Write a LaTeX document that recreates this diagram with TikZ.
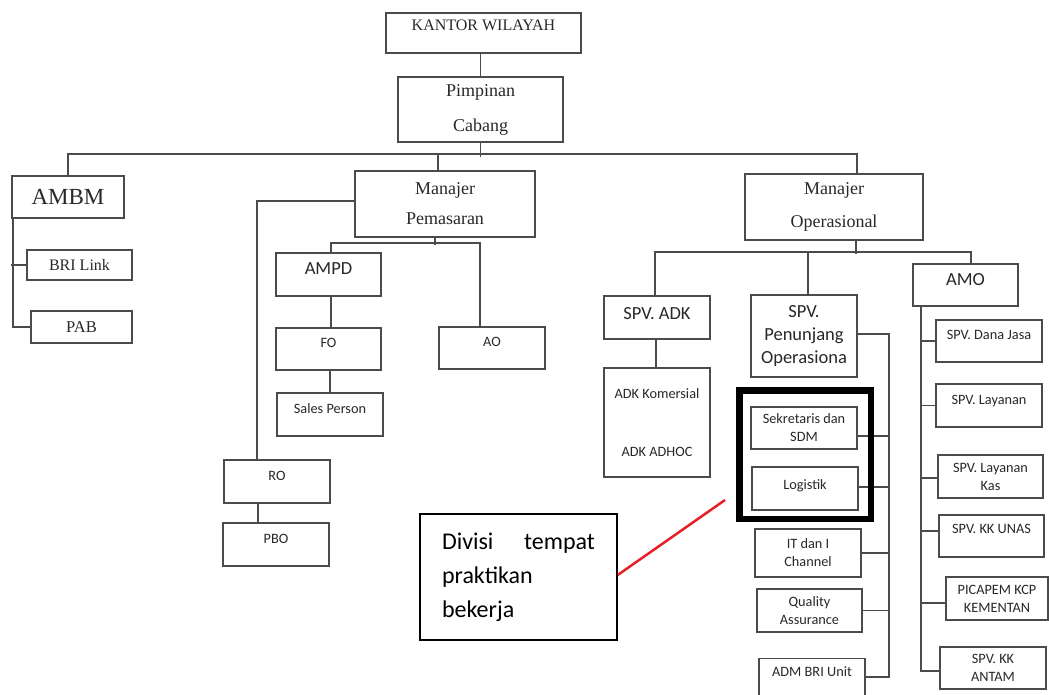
\documentclass[tikz,border=0pt]{standalone}
\usepackage{fontspec}
\usepackage{tikz}
\usetikzlibrary{positioning}
\newfontfamily\timesfont{Liberation Serif}
\newfontfamily\calfont{Carlito}
\definecolor{linegray}{RGB}{75,75,75}
\definecolor{textgray}{RGB}{40,40,40}
\definecolor{markred}{RGB}{232,30,40}

\begin{document}
\begin{tikzpicture}[x=1pt, y=1pt,
    box/.style={draw=linegray, line width=1.6pt, inner sep=0pt, align=center, text=textgray},
    tnr/.style 2 args={font=\timesfont\fontsize{#1}{#2}\selectfont},
    cal/.style 2 args={font=\calfont\fontsize{#1}{#2}\selectfont},
    big/.style={box, cal={18.5}{23}, minimum width=106, minimum height=43},
    small/.style={box, cal={14.3}{18}, minimum width=106, minimum height=43},
    lift/.style={text depth=#1}, lift/.default=12pt,
    link/.style={draw=linegray, line width=1.6pt},
    frame/.style={draw=black, line width=6.5pt},
    pointer/.style={draw=markred, line width=2.5pt}]
    \fill[white] (0,0) rectangle (1049,-695);
    \useasboundingbox (0,0) rectangle (1049,-695);

    \node[box, tnr={16}{18}, minimum width=195, minimum height=40, lift=16pt] (kw) at (483.5,-33) {KANTOR WILAYAH};
    \node[box, tnr={18}{35}, minimum width=165, minimum height=65] (pc) at (480.5,-109.5) {Pimpinan\\Cabang};
    \node[box, tnr={23}{28}, minimum width=112, minimum height=42] (ambm) at (68,-197) {AMBM};
    \node[box, tnr={16}{18}, minimum width=105, minimum height=30] (brilink) at (79.5,-265) {BRI Link};
    \node[box, tnr={16.5}{18}, minimum width=101, minimum height=32] (pab) at (81.5,-327) {PAB};
    \node[box, tnr={18}{30}, minimum width=180, minimum height=66] (mp) at (445,-204) {Manajer\\Pemasaran};
    \node[box, tnr={18}{33}, minimum width=178, minimum height=66] (mo) at (834,-207) {Manajer\\Operasional};

    % pemasaran
    \node[big, minimum width=105, lift] (ampd) at (328.5,-274.5) {AMPD};
    \node[small, minimum width=105, minimum height=42, lift] (fo) at (328.5,-349) {FO};
    \node[small, lift] (sales) at (330,-414.5) {Sales Person};
    \node[small, minimum height=42, lift] (ao) at (492,-348) {AO};
    \node[small, lift] (ro) at (277,-481.5) {RO};
    \node[small, lift] (pbo) at (276,-544.5) {PBO};

    % operasional
    \node[big, lift=9pt] (spvadk) at (657,-317.5) {SPV. ADK};
    \node[small, minimum height=109] (adk) at (657,-422.5) {ADK Komersial\\[40pt]ADK ADHOC};
    \node[big, minimum height=82] (spvpo) at (804,-336) {SPV.\\Penunjang\\Operasiona};
    \node[big, minimum width=105, minimum height=42, lift=11pt] (amo) at (965.5,-285) {AMO};
    \node[small, minimum height=42] (sdm) at (804,-428) {Sekretaris dan\\SDM};
    \node[small, lift=7pt] (logistik) at (805,-488.5) {Logistik};
    \node[small, minimum height=48] (itc) at (808,-553) {IT dan I\\Channel};
    \node[small, minimum width=105] (qa) at (809.5,-610.5) {Quality\\Assurance};
    \node[small, lift=16pt] (adm) at (812,-680) {ADM BRI Unit};
    \node[small, minimum height=42, lift] (danajasa) at (989,-341) {SPV. Dana Jasa};
    \node[small, lift] (layanan) at (989,-405.5) {SPV. Layanan};
    \node[small, minimum width=105] (layanankas) at (990.5,-476.5) {SPV. Layanan\\Kas};
    \node[small, minimum width=105, minimum height=42, lift=14pt] (kkunas) at (991.5,-536) {SPV. KK UNAS};
    \node[small, minimum width=102] (picapem) at (997,-598.5) {PICAPEM KCP\\KEMENTAN};
    \node[small, minimum height=42] (kkantam) at (993,-668) {SPV. KK\\ANTAM};

    \node[draw=black, line width=1.4pt, minimum width=197, minimum height=126, inner xsep=22pt,
        text width=153pt, align=left, cal={24}{34}] (note) at (518.5,-577) {Divisi\hfill tempat\\praktikan\\bekerja};
    \coordinate (tip) at (725,-500);

    \draw[link] (pc.north) -- (pc.north |- kw.south);
    \draw[link] (pc.south) -- ++(0,-14);
    \draw[link] (ambm.north) -- ++(0,21) -| ([xshift=23pt]mo.north);
    \draw[link] ([xshift=-7pt]mp.north) -- ++(0,15);

    \draw[link] ([xshift=-55pt]ambm.south) |- (pab.west);
    \draw[link] (brilink.west) -- (brilink.west -| ambm.south west);

    \draw[link] ([yshift=3pt]mp.west) -| ([xshift=-20pt]ro.north);
    \draw[link] ([xshift=-19pt]ro.south) -- ([xshift=-18pt]pbo.north);
    \draw[link] ([xshift=-10pt]mp.south) -- ++(0,-7);
    \draw[link] ([xshift=2.5pt]ampd.north) -- ++(0,9) -| ([xshift=-12pt]ao.north);
    \draw[link] ([xshift=2.5pt]ampd.south) -- ([xshift=2.5pt]fo.north);
    \draw[link] ([xshift=1.5pt]fo.south) -- (sales.north);

    \draw[link] ([xshift=22pt]mo.south) -- ++(0,-13);
    \draw[link] ([xshift=-2pt]spvadk.north) -- ++(0,43) -| ([xshift=5.5pt]amo.north);
    \draw[link] ([xshift=4pt]spvpo.north) -- ++(0,42);
    \draw[link] ([xshift=-1pt]spvadk.south) -- ([xshift=-1pt]adk.north);

    \coordinate (pobus) at ([xshift=31pt, yshift=2pt]spvpo.east);
    \draw[link] ([yshift=2pt]spvpo.east) -- (pobus) |- ([yshift=3pt]adm.east);
    \draw[link] ([yshift=-8pt]sdm.east) -- ([yshift=-8pt]sdm.east -| pobus);
    \draw[link] ([yshift=1.5pt]logistik.east) -- ([yshift=1.5pt]logistik.east -| pobus);
    \draw[link] (itc.east) -- (itc.east -| pobus);
    \draw[link] (qa.east) -- (qa.east -| pobus);

    \coordinate (amobus) at ([xshift=-44.5pt]amo.south);
    \draw[link] (amobus) |- ([yshift=-3pt]kkantam.west);
    \draw[link] (danajasa.west) -- (danajasa.west -| amobus);
    \draw[link] (layanan.west) -- (layanan.west -| amobus);
    \draw[link] ([yshift=-1.5pt]layanankas.west) -- ([yshift=-1.5pt]layanankas.west -| amobus);
    \draw[link] ([yshift=5pt]kkunas.west) -- ([yshift=5pt]kkunas.west -| amobus);
    \draw[link] ([yshift=-4.5pt]picapem.west) -- ([yshift=-4.5pt]picapem.west -| amobus);

    \draw[frame] (739.5,-390.5) rectangle (871,-519);
    \draw[pointer] ([yshift=2pt]note.east) -- (tip);
\end{tikzpicture}
\end{document}
